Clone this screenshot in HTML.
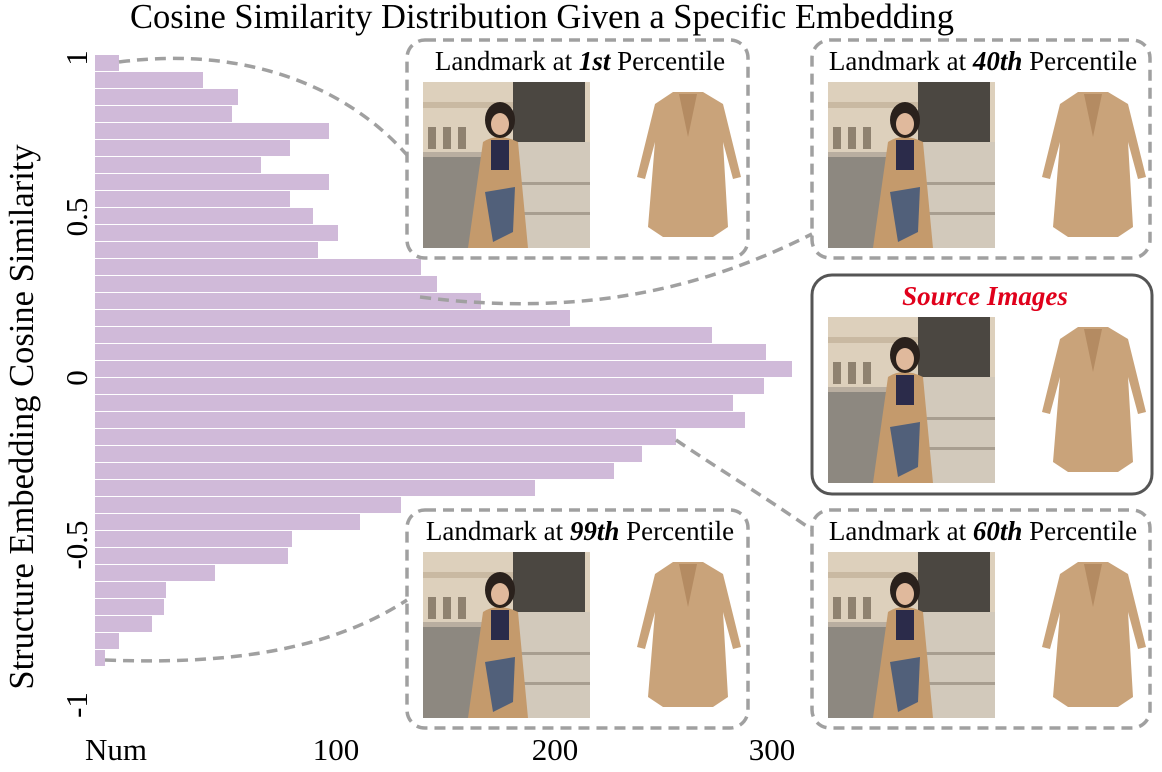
<!DOCTYPE html>
<html><head><meta charset="utf-8"><style>
html,body{margin:0;padding:0;background:#fff;}
svg{display:block;}
text{font-family:"Liberation Serif",serif;fill:#000;}
</style></head><body>
<svg width="1162" height="772" viewBox="0 0 1162 772" xmlns="http://www.w3.org/2000/svg">
<defs>
<symbol id="pic" viewBox="0 0 340 170" width="340" height="170">
  <rect x="0" y="0" width="167" height="166" fill="#b9aea0"/>
  <rect x="0" y="0" width="167" height="70" fill="#ddd0bc"/>
  <rect x="0" y="20" width="110" height="6" fill="#c9b9a2"/>
  <rect x="5" y="45" width="8" height="22" fill="#8f8270"/>
  <rect x="20" y="45" width="8" height="22" fill="#8f8270"/>
  <rect x="35" y="45" width="8" height="22" fill="#8f8270"/>
  <rect x="0" y="75" width="70" height="91" fill="#8d8880"/>
  <rect x="90" y="0" width="72" height="65" fill="#4b4741"/>
  <rect x="80" y="60" width="87" height="106" fill="#d2c9bb"/>
  <rect x="80" y="100" width="87" height="3" fill="#a89e90"/>
  <rect x="80" y="130" width="87" height="3" fill="#a89e90"/>
  <path d="M60 60 Q75 50 95 60 L105 166 L45 166 Z" fill="#c49a6c"/>
  <ellipse cx="77" cy="38" rx="15" ry="18" fill="#2a211c"/>
  <ellipse cx="77" cy="42" rx="9" ry="11" fill="#e0b99c"/>
  <rect x="68" y="58" width="18" height="30" fill="#2b2b4a"/>
  <path d="M62 110 L92 105 L90 150 L70 160 Z" fill="#51607a"/>
  <path d="M250 10 L280 10 L300 22 L318 95 L310 97 L300 60 L305 145 L290 155 L240 155 L225 145 L232 60 L222 97 L214 95 L232 22 Z" fill="#c9a37a"/>
  <path d="M256 12 L265 55 L274 12 Z" fill="#b48b62"/>
</symbol>
</defs>

<text x="542" y="28" font-size="34.5" text-anchor="middle">Cosine Similarity Distribution Given a Specific Embedding</text>
<text transform="translate(33,417) rotate(-90)" font-size="34.5" text-anchor="middle">Structure Embedding Cosine Similarity</text>

<g font-size="31" text-anchor="middle">
<text transform="translate(87,58) rotate(-90)">1</text>
<text transform="translate(87,217) rotate(-90)">0.5</text>
<text transform="translate(87,378) rotate(-90)">0</text>
<text transform="translate(87,545) rotate(-90)">-0.5</text>
<text transform="translate(87,705) rotate(-90)">-1</text>
</g>
<g font-size="31" text-anchor="middle">
<text x="116" y="760">Num</text>
<text x="336" y="760">100</text>
<text x="555" y="760">200</text>
<text x="772" y="760">300</text>
</g>

<g fill="#d0bad9">
<rect x="95" y="55" width="24" height="16"/>
<rect x="95" y="72" width="108" height="16"/>
<rect x="95" y="89" width="143" height="16"/>
<rect x="95" y="106" width="137" height="16"/>
<rect x="95" y="123" width="234" height="16"/>
<rect x="95" y="140" width="195" height="16"/>
<rect x="95" y="157" width="166" height="16"/>
<rect x="95" y="174" width="234" height="16"/>
<rect x="95" y="191" width="195" height="16"/>
<rect x="95" y="208" width="218" height="16"/>
<rect x="95" y="225" width="243" height="16"/>
<rect x="95" y="242" width="223" height="16"/>
<rect x="95" y="259" width="326" height="16"/>
<rect x="95" y="276" width="342" height="16"/>
<rect x="95" y="293" width="386" height="16"/>
<rect x="95" y="310" width="475" height="16"/>
<rect x="95" y="327" width="617" height="16"/>
<rect x="95" y="344" width="671" height="16"/>
<rect x="95" y="361" width="697" height="16"/>
<rect x="95" y="378" width="669" height="16"/>
<rect x="95" y="395" width="638" height="16"/>
<rect x="95" y="412" width="650" height="16"/>
<rect x="95" y="429" width="581" height="16"/>
<rect x="95" y="446" width="547" height="16"/>
<rect x="95" y="463" width="519" height="16"/>
<rect x="95" y="480" width="440" height="16"/>
<rect x="95" y="497" width="306" height="16"/>
<rect x="95" y="514" width="265" height="16"/>
<rect x="95" y="531" width="197" height="16"/>
<rect x="95" y="548" width="193" height="16"/>
<rect x="95" y="565" width="120" height="16"/>
<rect x="95" y="582" width="71" height="16"/>
<rect x="95" y="599" width="69" height="16"/>
<rect x="95" y="616" width="57" height="16"/>
<rect x="95" y="633" width="24" height="16"/>
<rect x="95" y="650" width="10" height="16"/>
</g>

<g fill="none" stroke="#a0a0a0" stroke-width="3.5" stroke-dasharray="11,7">
<path d="M119 62 C 250 45, 350 90, 407 155"/>
<path d="M420 297 C 600 320, 720 280, 812 234"/>
<path d="M676 440 C 720 470, 770 500, 812 530"/>
<path d="M105 660 C 230 665, 330 650, 407 600"/>
<rect x="407" y="40" width="341" height="218" rx="18"/>
<rect x="812" y="40" width="338" height="218" rx="18"/>
<rect x="407" y="510" width="341" height="218" rx="18"/>
<rect x="812" y="510" width="338" height="218" rx="18"/>
</g>
<rect x="812" y="275" width="340" height="219" rx="20" fill="none" stroke="#555" stroke-width="3"/>

<use href="#pic" x="423" y="82"/>
<use href="#pic" x="828" y="82"/>
<use href="#pic" x="828" y="317"/>
<use href="#pic" x="423" y="552"/>
<use href="#pic" x="828" y="552"/>

<g font-size="27" text-anchor="middle">
<text x="580" y="70">Landmark at <tspan font-weight="bold" font-style="italic">1st</tspan> Percentile</text>
<text x="983" y="70">Landmark at <tspan font-weight="bold" font-style="italic">40th</tspan> Percentile</text>
<text x="580" y="540">Landmark at <tspan font-weight="bold" font-style="italic">99th</tspan> Percentile</text>
<text x="983" y="540">Landmark at <tspan font-weight="bold" font-style="italic">60th</tspan> Percentile</text>
<text x="985" y="305" font-weight="bold" font-style="italic" style="fill:#e0001b">Source Images</text>
</g>
</svg>
</body></html>
